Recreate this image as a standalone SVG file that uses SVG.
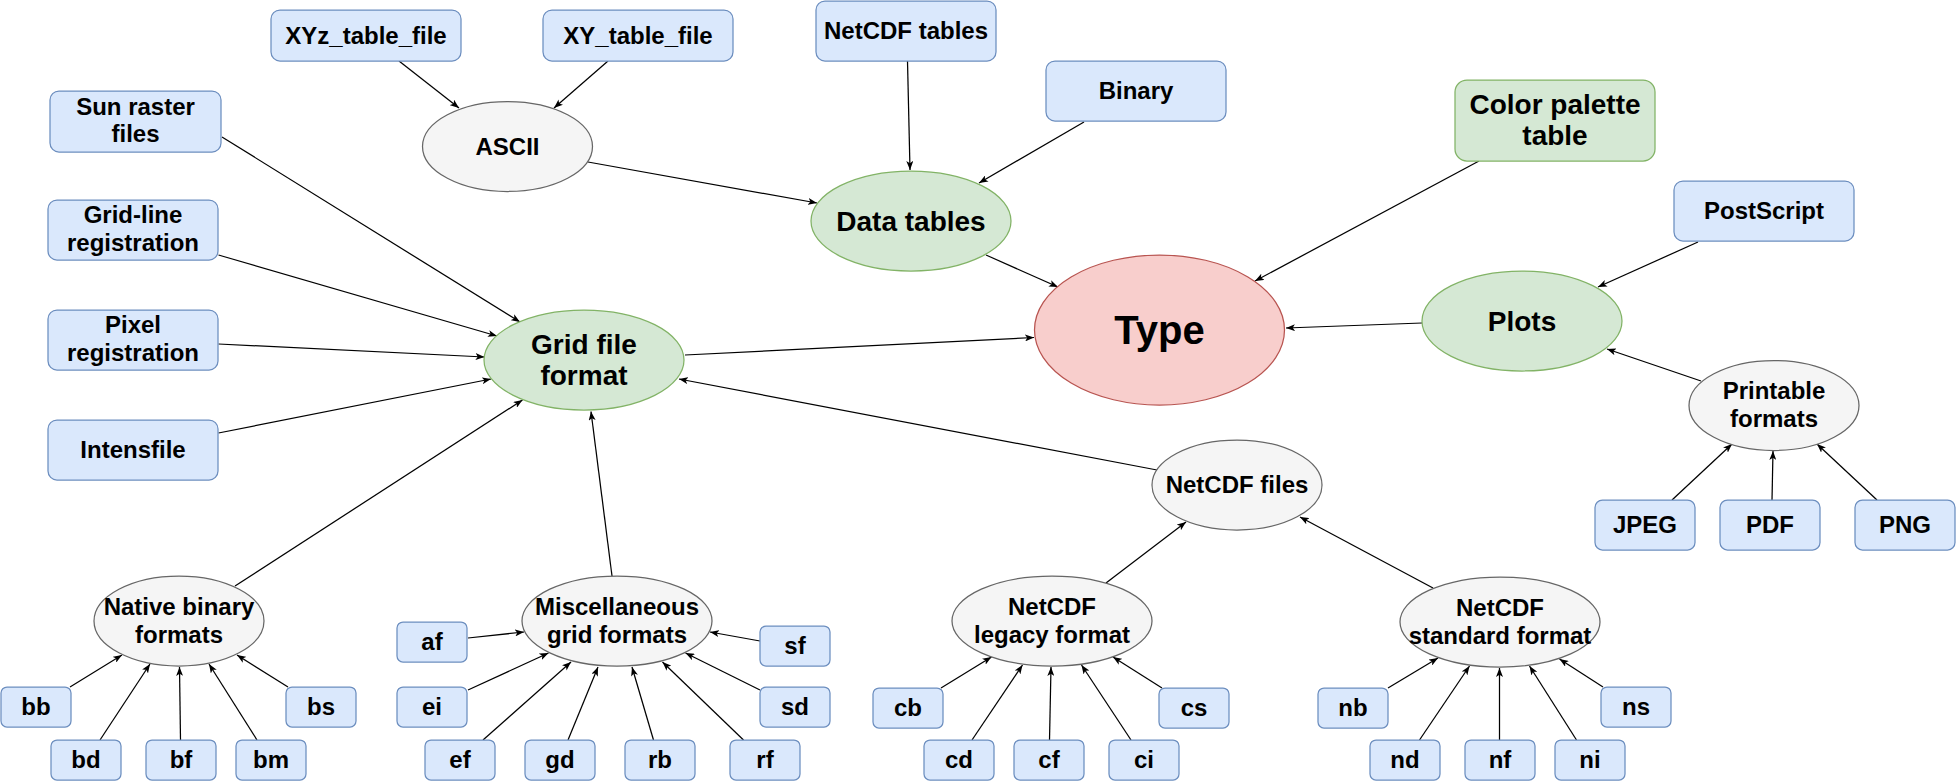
<svg xmlns="http://www.w3.org/2000/svg" width="1956" height="781" viewBox="0 0 1956 781">
<style>
text{font-family:"Liberation Sans",Arial,sans-serif;font-weight:bold;fill:#000;text-anchor:middle}
.t{font-size:24px}
.g{font-size:28px}
.blue{fill:#dae8fc;stroke:#6c8ebf;stroke-width:1.25}
.green{fill:#d5e8d4;stroke:#82b366;stroke-width:1.25}
.red{fill:#f8cecc;stroke:#b85450;stroke-width:1.25}
.gray{fill:#f5f5f5;stroke:#666666;stroke-width:1.25}
.e line{stroke:#000;stroke-width:1.25;marker-end:url(#arr)}
</style>
<defs>
<marker id="arr" viewBox="0 0 10 8" refX="10" refY="4" markerWidth="9" markerHeight="7" markerUnits="userSpaceOnUse" orient="auto" preserveAspectRatio="none">
<path d="M0,0 L10,4 L0,8 L2.5,4 Z" fill="#000"/>
</marker>
</defs>
<rect width="1956" height="781" fill="#fff"/>
<g id="edges" class="e">
<line x1="399" y1="61" x2="459" y2="108"/>
<line x1="608" y1="61" x2="554" y2="108"/>
<line x1="588" y1="162" x2="817" y2="203"/>
<line x1="907.5" y1="61" x2="910" y2="170"/>
<line x1="1084" y1="122" x2="979" y2="183"/>
<line x1="986" y1="255" x2="1058" y2="287"/>
<line x1="1479" y1="161" x2="1255" y2="281"/>
<line x1="1422" y1="323" x2="1286" y2="328"/>
<line x1="1698" y1="242" x2="1598" y2="287"/>
<line x1="1701" y1="381" x2="1607" y2="349"/>
<line x1="1672" y1="500" x2="1732" y2="444"/>
<line x1="1772" y1="500" x2="1773" y2="451"/>
<line x1="1877" y1="500" x2="1817" y2="444"/>
<line x1="685" y1="355" x2="1034" y2="337.5"/>
<line x1="222" y1="137" x2="520" y2="322"/>
<line x1="218.5" y1="255" x2="497" y2="336"/>
<line x1="218.5" y1="344" x2="484.5" y2="357"/>
<line x1="218.5" y1="433" x2="491" y2="379"/>
<line x1="235" y1="586" x2="522.5" y2="400"/>
<line x1="612" y1="576" x2="591" y2="411.5"/>
<line x1="1157" y1="470" x2="679" y2="379"/>
<line x1="1106" y1="583" x2="1186" y2="522"/>
<line x1="1433" y1="588" x2="1300" y2="517"/>
<line x1="70" y1="687" x2="122" y2="655"/>
<line x1="100" y1="740" x2="150" y2="664"/>
<line x1="180.5" y1="740" x2="179.5" y2="667"/>
<line x1="257" y1="740" x2="209" y2="664"/>
<line x1="288" y1="687" x2="237" y2="655"/>
<line x1="468" y1="638" x2="524" y2="632"/>
<line x1="468" y1="690" x2="548.5" y2="653"/>
<line x1="483" y1="740" x2="571" y2="662"/>
<line x1="568" y1="740" x2="598" y2="667"/>
<line x1="653.5" y1="740" x2="632" y2="667"/>
<line x1="743.5" y1="740" x2="662.5" y2="662"/>
<line x1="760" y1="690" x2="685.5" y2="653"/>
<line x1="760" y1="641" x2="710" y2="632"/>
<line x1="941" y1="688" x2="991.5" y2="657"/>
<line x1="972" y1="740" x2="1022.5" y2="665"/>
<line x1="1049.5" y1="740" x2="1051" y2="667"/>
<line x1="1131" y1="740" x2="1081.5" y2="665"/>
<line x1="1162" y1="688" x2="1113" y2="657"/>
<line x1="1388" y1="688" x2="1438" y2="658"/>
<line x1="1419.5" y1="740" x2="1469.5" y2="666"/>
<line x1="1499.5" y1="740" x2="1499.5" y2="668"/>
<line x1="1576.5" y1="740" x2="1529.5" y2="666"/>
<line x1="1603" y1="687" x2="1559.5" y2="659"/>
</g>
<g id="type"><ellipse class="red" cx="1159.5" cy="330" rx="125" ry="75"/><text x="1159.5" y="344" style="font-size:40px">Type</text></g>
<g id="data-tables"><ellipse class="green" cx="911" cy="221" rx="100" ry="50"/><text class="g" x="911" y="231">Data tables</text></g>
<g id="grid-file-format"><ellipse class="green" cx="584" cy="360" rx="100" ry="50"/><text class="g" x="584" y="354">Grid file</text><text class="g" x="584" y="385">format</text></g>
<g id="plots"><ellipse class="green" cx="1522" cy="321" rx="100" ry="50"/><text class="g" x="1522" y="331">Plots</text></g>
<g id="color-palette"><rect class="green" x="1455" y="80" width="200" height="81" rx="12"/><text class="g" x="1555" y="114">Color palette</text><text class="g" x="1555" y="145">table</text></g>
<g id="ascii"><ellipse class="gray" cx="507.5" cy="146.5" rx="85" ry="45"/><text class="t" x="507.5" y="155">ASCII</text></g>
<g id="xyz"><rect class="blue" x="271" y="10" width="190" height="51" rx="9"/><text class="t" x="366" y="44">XYz_table_file</text></g>
<g id="xy"><rect class="blue" x="543" y="10" width="190" height="51" rx="9"/><text class="t" x="638" y="44">XY_table_file</text></g>
<g id="netcdf-tables"><rect class="blue" x="816" y="1" width="180" height="60" rx="9"/><text class="t" x="906" y="39">NetCDF tables</text></g>
<g id="binary"><rect class="blue" x="1046" y="61" width="180" height="60" rx="9"/><text class="t" x="1136" y="99">Binary</text></g>
<g id="postscript"><rect class="blue" x="1674" y="181" width="180" height="60" rx="9"/><text class="t" x="1764" y="219">PostScript</text></g>
<g id="printable"><ellipse class="gray" cx="1774" cy="405.5" rx="85" ry="45"/><text class="t" x="1774" y="399">Printable</text><text class="t" x="1774" y="427">formats</text></g>
<g id="jpeg"><rect class="blue" x="1595" y="500" width="100" height="50" rx="7.5"/><text class="t" x="1645" y="533">JPEG</text></g>
<g id="pdf"><rect class="blue" x="1720" y="500" width="100" height="50" rx="7.5"/><text class="t" x="1770" y="533">PDF</text></g>
<g id="png"><rect class="blue" x="1855" y="500" width="100" height="50" rx="7.5"/><text class="t" x="1905" y="533">PNG</text></g>
<g id="sun-raster"><rect class="blue" x="50" y="91" width="171" height="61" rx="9"/><text class="t" x="135.5" y="115">Sun raster</text><text class="t" x="135.5" y="142">files</text></g>
<g id="grid-line"><rect class="blue" x="48" y="200" width="170" height="60" rx="9"/><text class="t" x="133" y="223">Grid-line</text><text class="t" x="133" y="251">registration</text></g>
<g id="pixel"><rect class="blue" x="48" y="310" width="170" height="60" rx="9"/><text class="t" x="133" y="333">Pixel</text><text class="t" x="133" y="361">registration</text></g>
<g id="intensfile"><rect class="blue" x="48" y="420" width="170" height="60" rx="9"/><text class="t" x="133" y="458">Intensfile</text></g>
<g id="netcdf-files"><ellipse class="gray" cx="1237" cy="485" rx="85" ry="45"/><text class="t" x="1237" y="493">NetCDF files</text></g>
<g id="native-binary"><ellipse class="gray" cx="179" cy="621" rx="85" ry="45"/><text class="t" x="179" y="615">Native binary</text><text class="t" x="179" y="643">formats</text></g>
<g id="misc-grid"><ellipse class="gray" cx="617" cy="621" rx="95" ry="45"/><text class="t" x="617" y="615">Miscellaneous</text><text class="t" x="617" y="643">grid formats</text></g>
<g id="netcdf-legacy"><ellipse class="gray" cx="1052" cy="621" rx="100" ry="45"/><text class="t" x="1052" y="615">NetCDF</text><text class="t" x="1052" y="643">legacy format</text></g>
<g id="netcdf-standard"><ellipse class="gray" cx="1500" cy="622" rx="100" ry="45"/><text class="t" x="1500" y="616">NetCDF</text><text class="t" x="1500" y="644">standard format</text></g>
<g id="bb"><rect class="blue" x="1" y="687" width="70" height="40" rx="6"/><text class="t" x="36" y="715">bb</text></g>
<g id="bd"><rect class="blue" x="51" y="740" width="70" height="40" rx="6"/><text class="t" x="86" y="768">bd</text></g>
<g id="bf"><rect class="blue" x="146" y="740" width="70" height="40" rx="6"/><text class="t" x="181" y="768">bf</text></g>
<g id="bm"><rect class="blue" x="236" y="740" width="70" height="40" rx="6"/><text class="t" x="271" y="768">bm</text></g>
<g id="bs"><rect class="blue" x="286" y="687" width="70" height="40" rx="6"/><text class="t" x="321" y="715">bs</text></g>
<g id="af"><rect class="blue" x="397" y="622" width="70" height="40" rx="6"/><text class="t" x="432" y="650">af</text></g>
<g id="ei"><rect class="blue" x="397" y="687" width="70" height="40" rx="6"/><text class="t" x="432" y="715">ei</text></g>
<g id="ef"><rect class="blue" x="425" y="740" width="70" height="40" rx="6"/><text class="t" x="460" y="768">ef</text></g>
<g id="gd"><rect class="blue" x="525" y="740" width="70" height="40" rx="6"/><text class="t" x="560" y="768">gd</text></g>
<g id="rb"><rect class="blue" x="625" y="740" width="70" height="40" rx="6"/><text class="t" x="660" y="768">rb</text></g>
<g id="rf"><rect class="blue" x="730" y="740" width="70" height="40" rx="6"/><text class="t" x="765" y="768">rf</text></g>
<g id="sf"><rect class="blue" x="760" y="626" width="70" height="40" rx="6"/><text class="t" x="795" y="654">sf</text></g>
<g id="sd"><rect class="blue" x="760" y="687" width="70" height="40" rx="6"/><text class="t" x="795" y="715">sd</text></g>
<g id="cb"><rect class="blue" x="873" y="688" width="70" height="40" rx="6"/><text class="t" x="908" y="716">cb</text></g>
<g id="cd"><rect class="blue" x="924" y="740" width="70" height="40" rx="6"/><text class="t" x="959" y="768">cd</text></g>
<g id="cf"><rect class="blue" x="1014" y="740" width="70" height="40" rx="6"/><text class="t" x="1049" y="768">cf</text></g>
<g id="ci"><rect class="blue" x="1109" y="740" width="70" height="40" rx="6"/><text class="t" x="1144" y="768">ci</text></g>
<g id="cs"><rect class="blue" x="1159" y="688" width="70" height="40" rx="6"/><text class="t" x="1194" y="716">cs</text></g>
<g id="nb"><rect class="blue" x="1318" y="688" width="70" height="40" rx="6"/><text class="t" x="1353" y="716">nb</text></g>
<g id="nd"><rect class="blue" x="1370" y="740" width="70" height="40" rx="6"/><text class="t" x="1405" y="768">nd</text></g>
<g id="nf"><rect class="blue" x="1465" y="740" width="70" height="40" rx="6"/><text class="t" x="1500" y="768">nf</text></g>
<g id="ni"><rect class="blue" x="1555" y="740" width="70" height="40" rx="6"/><text class="t" x="1590" y="768">ni</text></g>
<g id="ns"><rect class="blue" x="1601" y="687" width="70" height="40" rx="6"/><text class="t" x="1636" y="715">ns</text></g>
</svg>
